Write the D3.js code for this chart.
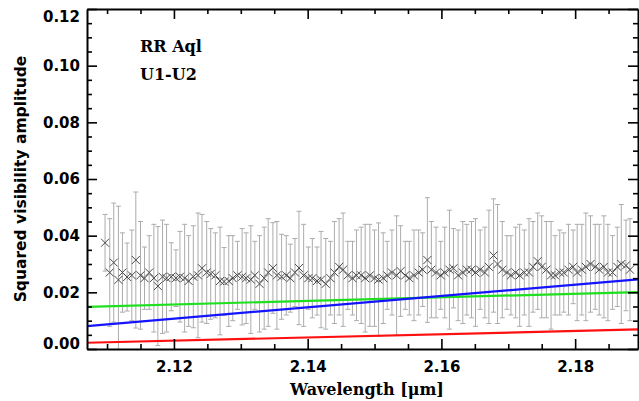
<!DOCTYPE html>
<html>
<head>
<meta charset="utf-8">
<script src="https://cdn.jsdelivr.net/npm/d3@7"></script>
<style>
  html, body { margin: 0; padding: 0; background: #fff; }
  svg { display: block; }
</style>
</head>
<body>
<svg id="chart" width="639" height="401"></svg>
<script>
// ---------------- data ----------------
const wavelength = [
  2.1097, 2.1104, 2.1110, 2.1117, 2.1123, 2.1130, 2.1137, 2.1143, 2.1150, 2.1156,
  2.1163, 2.1170, 2.1176, 2.1183, 2.1189, 2.1196, 2.1203, 2.1209, 2.1216, 2.1222,
  2.1229, 2.1236, 2.1242, 2.1249, 2.1255, 2.1262, 2.1269, 2.1275, 2.1282, 2.1288,
  2.1295, 2.1302, 2.1308, 2.1315, 2.1321, 2.1328, 2.1335, 2.1341, 2.1348, 2.1354,
  2.1361, 2.1368, 2.1374, 2.1381, 2.1387, 2.1394, 2.1401, 2.1407, 2.1414, 2.1420,
  2.1427, 2.1434, 2.1440, 2.1447, 2.1453, 2.1460, 2.1467, 2.1473, 2.1480, 2.1486,
  2.1493, 2.1500, 2.1506, 2.1513, 2.1519, 2.1526, 2.1533, 2.1539, 2.1546, 2.1552,
  2.1559, 2.1566, 2.1572, 2.1579, 2.1585, 2.1592, 2.1599, 2.1605, 2.1612, 2.1618,
  2.1625, 2.1632, 2.1638, 2.1645, 2.1651, 2.1658, 2.1665, 2.1671, 2.1678, 2.1684,
  2.1691, 2.1698, 2.1704, 2.1711, 2.1717, 2.1724, 2.1731, 2.1737, 2.1744, 2.1750,
  2.1757, 2.1764, 2.1770, 2.1777, 2.1783, 2.1790, 2.1797, 2.1803, 2.1810, 2.1816,
  2.1823, 2.1830, 2.1836, 2.1843, 2.1849, 2.1856, 2.1863, 2.1869, 2.1876, 2.1882
];
const visibility = [
  0.0375, 0.0270, 0.0305, 0.0244, 0.0270, 0.0254, 0.0260, 0.0314, 0.0260, 0.0250,
  0.0270, 0.0250, 0.0222, 0.0255, 0.0250, 0.0255, 0.0250, 0.0255, 0.0250, 0.0240,
  0.0255, 0.0260, 0.0285, 0.0270, 0.0265, 0.0260, 0.0240, 0.0238, 0.0240, 0.0250,
  0.0260, 0.0255, 0.0250, 0.0245, 0.0260, 0.0230, 0.0250, 0.0270, 0.0286, 0.0260,
  0.0255, 0.0260, 0.0250, 0.0270, 0.0286, 0.0260, 0.0250, 0.0250, 0.0240, 0.0245,
  0.0230, 0.0250, 0.0270, 0.0290, 0.0280, 0.0260, 0.0250, 0.0260, 0.0260, 0.0250,
  0.0260, 0.0250, 0.0245, 0.0250, 0.0260, 0.0270, 0.0260, 0.0275, 0.0260, 0.0250,
  0.0260, 0.0270, 0.0280, 0.0314, 0.0280, 0.0270, 0.0260, 0.0270, 0.0280, 0.0285,
  0.0260, 0.0270, 0.0280, 0.0280, 0.0270, 0.0280, 0.0270, 0.0290, 0.0330, 0.0300,
  0.0280, 0.0270, 0.0260, 0.0270, 0.0260, 0.0270, 0.0270, 0.0290, 0.0310, 0.0290,
  0.0280, 0.0260, 0.0260, 0.0270, 0.0270, 0.0280, 0.0290, 0.0270, 0.0280, 0.0290,
  0.0300, 0.0290, 0.0280, 0.0290, 0.0270, 0.0270, 0.0290, 0.0300, 0.0295, 0.0280
];
const visError = [
  0.010, 0.019, 0.021, 0.026, 0.014, 0.012, 0.016, 0.024, 0.019, 0.011,
  0.013, 0.019, 0.021, 0.020, 0.019, 0.012, 0.010, 0.016, 0.019, 0.016,
  0.018, 0.022, 0.019, 0.018, 0.016, 0.015, 0.019, 0.012, 0.016, 0.015,
  0.012, 0.017, 0.016, 0.019, 0.012, 0.017, 0.018, 0.019, 0.016, 0.019,
  0.015, 0.014, 0.012, 0.012, 0.020, 0.018, 0.011, 0.014, 0.012, 0.017,
  0.016, 0.013, 0.018, 0.017, 0.020, 0.012, 0.013, 0.016, 0.017, 0.019,
  0.018, 0.017, 0.020, 0.016, 0.012, 0.015, 0.021, 0.016, 0.012, 0.013,
  0.016, 0.015, 0.013, 0.022, 0.017, 0.016, 0.012, 0.016, 0.021, 0.014,
  0.016, 0.018, 0.016, 0.017, 0.019, 0.014, 0.016, 0.020, 0.020, 0.021,
  0.017, 0.013, 0.014, 0.016, 0.018, 0.015, 0.019, 0.016, 0.017, 0.018,
  0.017, 0.019, 0.014, 0.015, 0.014, 0.016, 0.013, 0.017, 0.016, 0.019,
  0.017, 0.015, 0.016, 0.018, 0.017, 0.013, 0.014, 0.021, 0.016, 0.018
];
// model curves (end points)
const modelWavelength = [2.1070, 2.1894];
const modelRed   = [0.0022, 0.0069];
const modelGreen = [0.0149, 0.0201];
const modelBlue  = [0.0081, 0.0246];

const xMajorTicks = [2.12, 2.14, 2.16, 2.18];
const xMinorTicks = [2.110, 2.115, 2.125, 2.130, 2.135, 2.145, 2.150, 2.155, 2.165, 2.170, 2.175, 2.185];
const yMajorTicks = [0.00, 0.02, 0.04, 0.06, 0.08, 0.10, 0.12];
const yMinorTicks = [0.005, 0.01, 0.015, 0.025, 0.03, 0.035, 0.045, 0.05, 0.055, 0.065, 0.07, 0.075,
                     0.085, 0.09, 0.095, 0.105, 0.11, 0.115];
const labels = ["RR Aql", "U1-U2"];

// ---------------- layout ----------------
const svg = d3.select("#chart");
const L = 87, R = 638, T = 9, B = 349;
const x = d3.scaleLinear().domain([2.1070, 2.1894]).range([L, R]);
const y = d3.scaleLinear().domain([0, 0.12]).range([B, T]);

svg.append("defs").append("clipPath").attr("id", "clip")
  .append("rect").attr("x", L).attr("y", T).attr("width", R - L).attr("height", B - T);

const plot = svg.append("g").attr("clip-path", "url(#clip)");

// error bars
const pts = wavelength.map((w, i) => ({ w, v: visibility[i], e: visError[i] }));
const eb = plot.append("g").attr("stroke", "#acacac").attr("stroke-width", 1).attr("fill", "none");
pts.forEach(d => {
  const cx = x(d.w), y1 = y(d.v + d.e), y0 = y(d.v - d.e);
  eb.append("line").attr("x1", cx).attr("x2", cx).attr("y1", y1).attr("y2", y0);
  eb.append("line").attr("x1", cx - 2.5).attr("x2", cx + 2.5).attr("y1", y1).attr("y2", y1);
  eb.append("line").attr("x1", cx - 2.5).attr("x2", cx + 2.5).attr("y1", y0).attr("y2", y0);
});

// X markers
const mk = plot.append("g").attr("stroke", "#4a4a4a").attr("stroke-width", 1).attr("fill", "none");
const s = 4;
pts.forEach(d => {
  const cx = x(d.w), cy = y(d.v);
  mk.append("path").attr("d", `M${cx - s},${cy - s}L${cx + s},${cy + s}M${cx - s},${cy + s}L${cx + s},${cy - s}`);
});

// model lines
const line = d3.line().x(d => x(d[0])).y(d => y(d[1]));
[[modelRed, "#ff1010"], [modelGreen, "#1ee01e"], [modelBlue, "#1414ff"]].forEach(([vals, col]) => {
  plot.append("path")
    .datum(modelWavelength.map((w, i) => [w, vals[i]]))
    .attr("d", line).attr("fill", "none").attr("stroke", col).attr("stroke-width", 2.2);
});

// ---------------- axes ----------------
function styleAxis(g) {
  g.select(".domain").attr("stroke", "#000").attr("stroke-width", 2);
  g.selectAll(".tick line").attr("stroke", "#000").attr("stroke-width", 1.6);
}
const tickFont = "DejaVu Sans, Liberation Sans, sans-serif";
const serifFont = "DejaVu Serif, Liberation Serif, serif";

// bottom
const gB = svg.append("g").attr("transform", `translate(0,${B})`)
  .call(d3.axisBottom(x).tickValues(xMajorTicks).tickSize(-10).tickSizeOuter(0).tickPadding(12)
    .tickFormat(d3.format(".2f")));
styleAxis(gB);
gB.selectAll("text").attr("font-family", tickFont).attr("font-weight", "bold").attr("font-size", 15).attr("fill", "#000");
svg.append("g").attr("transform", `translate(0,${B})`)
  .call(d3.axisBottom(x).tickValues(xMinorTicks).tickSize(-5).tickSizeOuter(0).tickFormat(""))
  .call(g => { g.select(".domain").remove(); g.selectAll(".tick line").attr("stroke", "#000").attr("stroke-width", 1.6); });

// top
const gT = svg.append("g").attr("transform", `translate(0,${T})`)
  .call(d3.axisTop(x).tickValues(xMajorTicks).tickSize(-10).tickSizeOuter(0).tickFormat(""));
styleAxis(gT);
svg.append("g").attr("transform", `translate(0,${T})`)
  .call(d3.axisTop(x).tickValues(xMinorTicks).tickSize(-5).tickSizeOuter(0).tickFormat(""))
  .call(g => { g.select(".domain").remove(); g.selectAll(".tick line").attr("stroke", "#000").attr("stroke-width", 1.6); });

// left
const gL = svg.append("g").attr("transform", `translate(${L},0)`)
  .call(d3.axisLeft(y).tickValues(yMajorTicks).tickSize(-10).tickSizeOuter(0).tickPadding(7)
    .tickFormat(d3.format(".2f")));
styleAxis(gL);
gL.selectAll("text").attr("font-family", tickFont).attr("font-weight", "bold").attr("font-size", 15).attr("fill", "#000")
  .attr("dy", d => d === 0.12 ? "0.85em" : (d === 0 ? "-0.05em" : "0.32em"));
svg.append("g").attr("transform", `translate(${L},0)`)
  .call(d3.axisLeft(y).tickValues(yMinorTicks).tickSize(-5).tickSizeOuter(0).tickFormat(""))
  .call(g => { g.select(".domain").remove(); g.selectAll(".tick line").attr("stroke", "#000").attr("stroke-width", 1.6); });

// right
const gR = svg.append("g").attr("transform", `translate(${R},0)`)
  .call(d3.axisRight(y).tickValues(yMajorTicks).tickSize(-10).tickSizeOuter(0).tickFormat(""));
styleAxis(gR);
svg.append("g").attr("transform", `translate(${R},0)`)
  .call(d3.axisRight(y).tickValues(yMinorTicks).tickSize(-5).tickSizeOuter(0).tickFormat(""))
  .call(g => { g.select(".domain").remove(); g.selectAll(".tick line").attr("stroke", "#000").attr("stroke-width", 1.6); });

// axis titles
svg.append("text")
  .attr("transform", `translate(26,${(T + B) / 2}) rotate(-90)`)
  .attr("text-anchor", "middle")
  .attr("font-family", tickFont).attr("font-weight", "bold").attr("font-size", 15.5)
  .text("Squared visibility amplitude");

svg.append("text")
  .attr("x", 367).attr("y", 395)
  .attr("text-anchor", "middle")
  .attr("font-family", serifFont).attr("font-weight", "bold").attr("font-size", 16)
  .text("Wavelength [\u03bcm]");

// annotations
svg.append("text").attr("x", 140).attr("y", 52)
  .attr("font-family", serifFont).attr("font-weight", "bold").attr("font-size", 16)
  .text(labels[0]);
svg.append("text").attr("x", 140).attr("y", 80)
  .attr("font-family", serifFont).attr("font-weight", "bold").attr("font-size", 16)
  .text(labels[1]);
</script>
</body>
</html>
